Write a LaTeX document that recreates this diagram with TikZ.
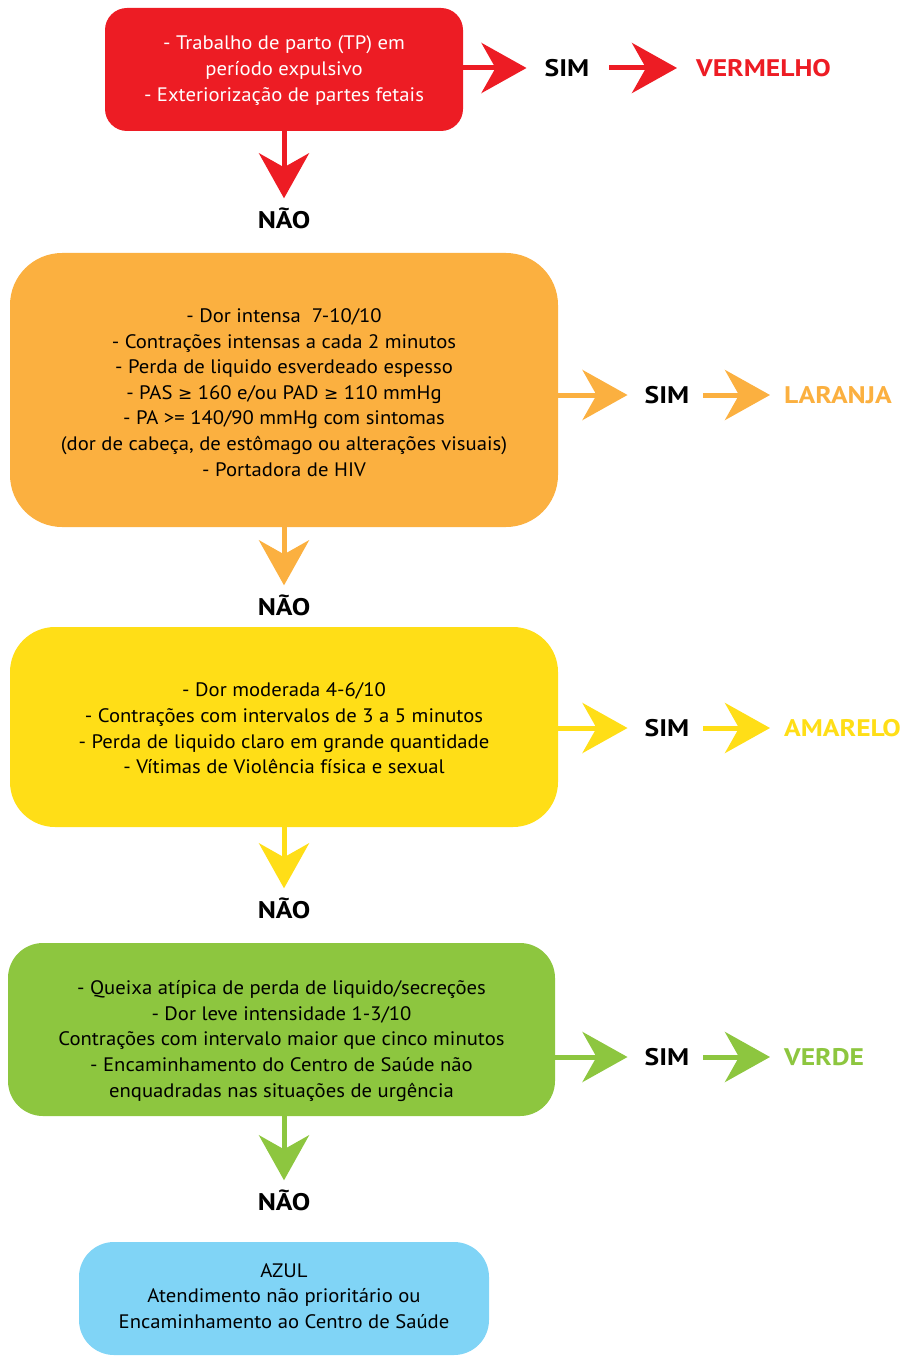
\documentclass[tikz,border=0pt]{standalone}
\usepackage{fontspec}
\setmainfont{PT Sans}[FakeStretch=1.06]
\newfontfamily\fonterotulo{PT Sans}[FakeStretch=1.15]
\newfontfamily\symfont{DejaVu Sans}
\usetikzlibrary{arrows.meta}

\definecolor{cvermelho}{HTML}{ED1C24}
\definecolor{claranja}{HTML}{FBB040}
\definecolor{camarelo}{HTML}{FFDE17}
\definecolor{cverde}{HTML}{8DC63F}
\definecolor{cazul}{HTML}{80D4F6}

\tikzset{
  caixa/.style={inner sep=0pt, outer sep=0pt},
  texto/.style={align=center, inner sep=0pt, font=\fontsize{19.5}{25.6}\selectfont},
  rotulo/.style={inner sep=0pt, font=\fonterotulo\fontsize{24}{26}\selectfont\bfseries},
  seta/.style={line width=5pt, -{Stealth[length=45pt, width=50pt, inset=14pt]}},
}
\newcommand{\gq}{{\symfont\fontsize{17}{20}\selectfont ≥}}

\begin{document}
\begin{tikzpicture}[x=1pt, y=-1pt]
  \useasboundingbox (0,0) rectangle (904,1356);

  % VERMELHO
  \node[caixa, fill=cvermelho, rounded corners=22pt, minimum width=358pt, minimum height=123pt] (vermelho) at (284,69.5) {};
  \node[texto, text=white] (vermelhotxt) at (284,70.5) {- Trabalho de parto (TP) em\\ período expulsivo\\ - Exteriorização de partes fetais};
  \node[rotulo] (sim1) at (567,68) {SIM};
  \node[rotulo, anchor=west, text=cvermelho] (res1) at (696,68) {VERMELHO};
  \node[rotulo] (nao1) at (284,218) {NÃO};
  \draw[seta, cvermelho, shorten >=18pt] (sim1 -| vermelho.east) -- (sim1.west);
  \draw[seta, cvermelho, shorten <=20pt, shorten >=19pt] (sim1.east) -- (res1.west);
  \draw[seta, cvermelho, shorten >=9pt] (vermelho.south) -- (nao1.north);

  % LARANJA
  \node[caixa, fill=claranja, rounded corners=52pt, minimum width=548pt, minimum height=274pt] (laranja) at (284,390) {};
  \node[texto] (laranjatxt) at (284,392.5) {- Dor intensa\ \ 7-10/10\\ - Contrações intensas a cada 2 minutos\\ - Perda de liquido esverdeado espesso\\ - PAS \gq{} 160 e/ou PAD \gq{} 110 mmHg\\ - PA >= 140/90 mmHg com sintomas\\ (dor de cabeça, de estômago ou alterações visuais)\\ - Portadora de HIV};
  \node[rotulo] (sim2) at (667,395) {SIM};
  \node[rotulo, anchor=west, text=claranja] (res2) at (784,395) {LARANJA};
  \node[rotulo] (nao2) at (284,605) {NÃO};
  \draw[seta, claranja, shorten >=17pt] (sim2 -| laranja.east) -- (sim2.west);
  \draw[seta, claranja, shorten <=14pt, shorten >=14pt] (sim2.east) -- (res2.west);
  \draw[seta, claranja, shorten >=9pt] (laranja.south) -- (nao2.north);

  % AMARELO
  \node[caixa, fill=camarelo, rounded corners=45pt, minimum width=548pt, minimum height=200pt] (amarelo) at (284,727) {};
  \node[texto] (amarelotxt) at (284,728.5) {- Dor moderada 4-6/10\\ - Contrações com intervalos de 3 a 5 minutos\\ - Perda de liquido claro em grande quantidade\\ - Vítimas de Violência física e sexual};
  \node[rotulo] (sim3) at (667,728) {SIM};
  \node[rotulo, anchor=west, text=camarelo] (res3) at (784,728) {AMARELO};
  \node[rotulo] (nao3) at (284,908) {NÃO};
  \draw[seta, camarelo, shorten >=17pt] (sim3 -| amarelo.east) -- (sim3.west);
  \draw[seta, camarelo, shorten <=14pt, shorten >=14pt] (sim3.east) -- (res3.west);
  \draw[seta, camarelo, shorten >=9pt] (amarelo.south) -- (nao3.north);

  % VERDE
  \node[caixa, fill=cverde, rounded corners=35pt, minimum width=547pt, minimum height=173pt] (verde) at (281.5,1029.5) {};
  \node[texto] (verdetxt) at (281.5,1041) {- Queixa atípica de perda de liquido/secreções\\ - Dor leve intensidade 1-3/10\\ Contrações com intervalo maior que cinco minutos\\ - Encaminhamento do Centro de Saúde não\\ enquadradas nas situações de urgência};
  \node[rotulo] (sim4) at (667,1057) {SIM};
  \node[rotulo, anchor=west, text=cverde] (res4) at (784,1057) {VERDE};
  \node[rotulo] (nao4) at (284,1200) {NÃO};
  \draw[seta, cverde, shorten >=17pt] (sim4 -| verde.east) -- (sim4.west);
  \draw[seta, cverde, shorten <=14pt, shorten >=14pt] (sim4.east) -- (res4.west);
  \draw[seta, cverde, shorten >=9pt] (verde.south -| nao4) -- (nao4.north);

  % AZUL
  \node[caixa, fill=cazul, rounded corners=35pt, minimum width=410pt, minimum height=113pt] (azul) at (284,1298.5) {};
  \node[texto] (azultxt) at (284,1296) {AZUL\\ Atendimento não prioritário ou\\ Encaminhamento ao Centro de Saúde};
\end{tikzpicture}
\end{document}
